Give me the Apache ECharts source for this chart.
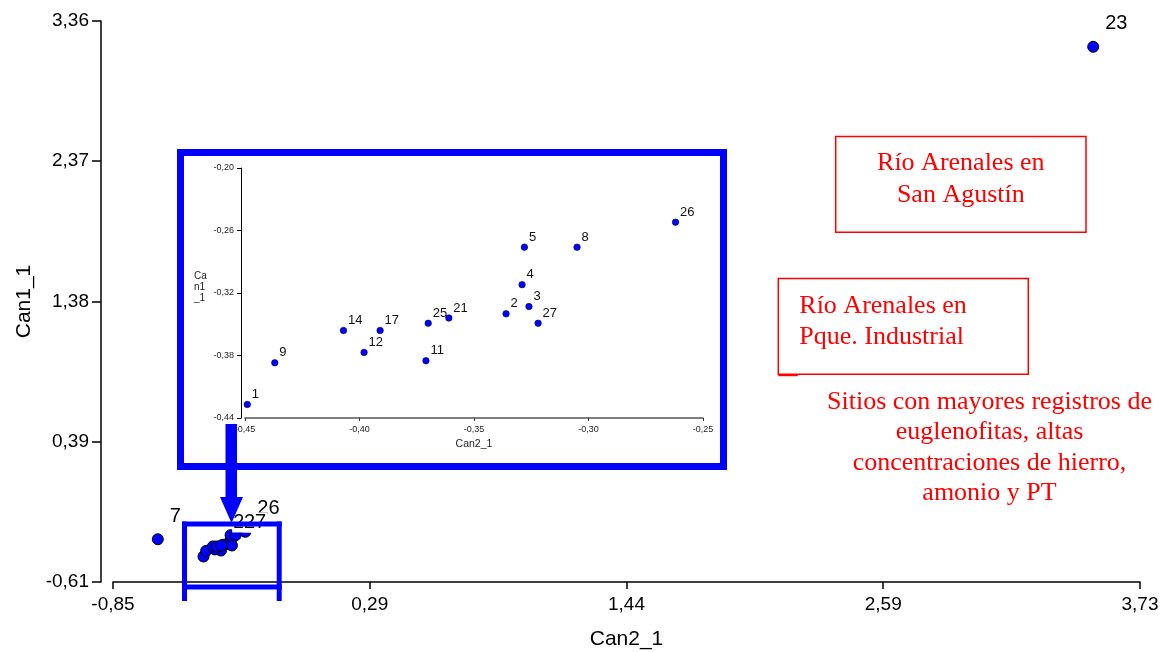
<!DOCTYPE html>
<html>
<head>
<meta charset="utf-8">
<script src="https://cdn.jsdelivr.net/npm/echarts@6/dist/echarts.min.js"></script>
<style>
  html, body { margin: 0; padding: 0; background: #ffffff; }
  #chart { width: 1169px; height: 652px; }
</style>
</head>
<body>
<div id="chart"></div>
<script>
// Canonical scores per sampling site
const sites = ['1', '2', '3', '4', '5', '7', '8', '9', '11', '12', '14', '17', '21', '23', '25', '26', '27'];
const can2 = [-0.449, -0.336, -0.326, -0.329, -0.328, -0.653, -0.305, -0.437, -0.371, -0.398, -0.407, -0.391, -0.361, 3.524, -0.370, -0.262, -0.322];
const can1 = [-0.427, -0.340, -0.333, -0.312, -0.276, -0.305, -0.276, -0.387, -0.385, -0.377, -0.356, -0.356, -0.344, 3.180, -0.349, -0.252, -0.349];

// Sites whose labels stay readable on the full plot
const mainLabelled = ['7', '23', '25', '26', '27'];

// Full plot axis ticks
const xTickValues = [-0.853, 0.2935, 1.44, 2.5865, 3.733];
const xTickLabels = ['-0,85', '0,29', '1,44', '2,59', '3,73'];
const yTickValues = [-0.6075, 0.385, 1.3775, 2.37, 3.3625];
const yTickLabels = ['-0,61', '0,39', '1,38', '2,37', '3,36'];

// Zoomed plot axis ticks
const insetXTicks = [-0.45, -0.40, -0.35, -0.30, -0.25];
const insetXLabels = ['-0,45', '-0,40', '-0,35', '-0,30', '-0,25'];
const insetYTicks = [-0.44, -0.38, -0.32, -0.26, -0.20];
const insetYLabels = ['-0,44', '-0,38', '-0,32', '-0,26', '-0,20'];

function pickLabel(values, labels) {
  return function (v) {
    let best = 0;
    values.forEach(function (t, i) {
      if (Math.abs(t - v) < Math.abs(values[best] - v)) best = i;
    });
    return labels[best];
  };
}

const SANS = '"Liberation Sans", Arial, sans-serif';
const SERIF = '"Liberation Serif", "Times New Roman", serif';

const mainData = sites.map(function (s, i) {
  const show = mainLabelled.indexOf(s) >= 0;
  return {
    name: s,
    value: [can2[i], can1[i]],
    label: { show: show }
  };
});

const insetData = [];
sites.forEach(function (s, i) {
  if (can2[i] >= insetXTicks[0] && can2[i] <= insetXTicks[insetXTicks.length - 1] &&
      can1[i] >= insetYTicks[0] && can1[i] <= insetYTicks[insetYTicks.length - 1]) {
    insetData.push({ name: s, value: [can2[i], can1[i]] });
  }
});

const chart = echarts.init(document.getElementById('chart'), null, { renderer: 'canvas' });

const option = {
  backgroundColor: '#ffffff',
  animation: false,
  textStyle: { fontFamily: SANS },
  grid: [
    { left: 113, right: 29, top: 21, bottom: 70, containLabel: false, outerBoundsMode: 'none' },
    { left: 245, right: 466, top: 168, bottom: 234, containLabel: false, outerBoundsMode: 'none' }
  ],
  xAxis: [
    {
      gridIndex: 0,
      type: 'value',
      min: xTickValues[0],
      max: xTickValues[xTickValues.length - 1],
      name: 'Can2_1',
      nameLocation: 'middle',
      nameGap: 47,
      nameTextStyle: { fontSize: 21, color: '#000', fontFamily: SANS },
      axisLine: { show: true, onZero: false, lineStyle: { color: '#000', width: 1.5 } },
      axisTick: { show: true, length: 7, customValues: xTickValues, lineStyle: { color: '#000', width: 1.5 } },
      axisLabel: { customValues: xTickValues, formatter: pickLabel(xTickValues, xTickLabels), fontSize: 19, color: '#000', margin: 13, fontFamily: SANS },
      splitLine: { show: false }
    },
    {
      gridIndex: 1,
      type: 'value',
      min: insetXTicks[0],
      max: insetXTicks[insetXTicks.length - 1],
      name: 'Can2_1',
      nameLocation: 'middle',
      nameGap: 21,
      nameTextStyle: { fontSize: 10.5, color: '#222', fontFamily: SANS },
      axisLine: { show: true, onZero: false, lineStyle: { color: '#555', width: 1.5 } },
      axisTick: { show: true, length: 3, customValues: insetXTicks, lineStyle: { color: '#333', width: 1 } },
      axisLabel: { customValues: insetXTicks, formatter: pickLabel(insetXTicks, insetXLabels), fontSize: 9, color: '#222', margin: 7, fontFamily: SANS },
      splitLine: { show: false }
    }
  ],
  yAxis: [
    {
      gridIndex: 0,
      type: 'value',
      min: yTickValues[0],
      max: yTickValues[yTickValues.length - 1],
      offset: 12,
      name: 'Can1_1',
      nameLocation: 'middle',
      nameRotate: 90,
      nameGap: 64,
      nameTextStyle: { fontSize: 21, color: '#000', fontFamily: SANS },
      axisLine: { show: true, onZero: false, lineStyle: { color: '#000', width: 1.5 } },
      axisTick: { show: true, length: 9, customValues: yTickValues, lineStyle: { color: '#000', width: 1.5 } },
      axisLabel: { customValues: yTickValues, formatter: pickLabel(yTickValues, yTickLabels), fontSize: 19, color: '#000', margin: 12, fontFamily: SANS },
      splitLine: { show: false }
    },
    {
      gridIndex: 1,
      type: 'value',
      min: insetYTicks[0],
      max: insetYTicks[insetYTicks.length - 1],
      offset: 4,
      axisLine: { show: true, onZero: false, lineStyle: { color: '#000', width: 1 } },
      axisTick: { show: true, length: 4, customValues: insetYTicks, lineStyle: { color: '#000', width: 1 } },
      axisLabel: { customValues: insetYTicks, formatter: pickLabel(insetYTicks, insetYLabels), fontSize: 9, color: '#222', margin: 7, fontFamily: SANS },
      splitLine: { show: false }
    }
  ],
  series: [
    {
      type: 'scatter',
      xAxisIndex: 0,
      yAxisIndex: 0,
      symbol: 'circle',
      symbolSize: 11,
      itemStyle: { color: '#0000ff', borderColor: '#000', borderWidth: 1, opacity: 1 },
      label: {
        position: 'inside',
        align: 'left',
        verticalAlign: 'middle',
        offset: [11, -23],
        formatter: '{b}',
        fontSize: 20,
        color: '#000',
        fontFamily: SANS,
        backgroundColor: '#ffffff',
        padding: [0, 1]
      },
      data: mainData,
      z: 3
    },
    {
      type: 'scatter',
      xAxisIndex: 1,
      yAxisIndex: 1,
      symbol: 'circle',
      symbolSize: 6.5,
      itemStyle: { color: '#0000ff', borderColor: '#000050', borderWidth: 0.6, opacity: 1 },
      label: {
        show: true,
        position: 'inside',
        align: 'left',
        verticalAlign: 'middle',
        offset: [4.5, -10],
        formatter: '{b}',
        fontSize: 13,
        color: '#111',
        fontFamily: SANS
      },
      data: insetData,
      z: 3
    }
  ],
  graphic: [
    // frame round the zoomed plot
    { type: 'rect', z: 100, shape: { x: 180.5, y: 152.5, width: 543, height: 314 },
      style: { fill: 'none', stroke: '#0000ff', lineWidth: 7 } },
    // name of the zoomed plot's vertical axis
    { type: 'text', z: 100, style: { x: 194, y: 287, text: 'Ca\nn1\n_1', font: '10px ' + SANS,
      fill: '#222', align: 'left', textAlign: 'left', verticalAlign: 'middle', textVerticalAlign: 'middle', lineHeight: 11 } },
    // small frame round the cluster of sites
    { type: 'line', z: 100, shape: { x1: 184.5, y1: 521.5, x2: 184.5, y2: 601 }, style: { stroke: '#0000ff', lineWidth: 5 } },
    { type: 'line', z: 100, shape: { x1: 279.2, y1: 521.5, x2: 279.2, y2: 601 }, style: { stroke: '#0000ff', lineWidth: 5 } },
    { type: 'line', z: 100, shape: { x1: 182, y1: 524, x2: 281.7, y2: 524 }, style: { stroke: '#0000ff', lineWidth: 5 } },
    { type: 'line', z: 100, shape: { x1: 182, y1: 587, x2: 281.7, y2: 587 }, style: { stroke: '#0000ff', lineWidth: 5 } },
    // arrow from the zoomed plot to the cluster
    { type: 'polygon', z: 101, shape: { points: [[225.5, 424], [237, 424], [237, 497], [243, 497], [231.5, 523], [220, 497], [225.5, 497]] },
      style: { fill: '#0000ff', stroke: 'none' } },
    // red annotation boxes and notes
    { type: 'rect', z: 100, shape: { x: 835.7, y: 136.5, width: 250.3, height: 95.8 },
      style: { fill: 'none', stroke: '#ff0000', lineWidth: 1.5 } },
    { type: 'text', z: 100, style: { x: 960.8, y: 179.2, text: 'Río Arenales en\nSan Agustín', font: '26px ' + SERIF,
      fill: '#ff0000', align: 'center', textAlign: 'center', verticalAlign: 'middle', textVerticalAlign: 'middle', lineHeight: 32 } },
    { type: 'rect', z: 100, shape: { x: 778.3, y: 278.5, width: 250, height: 95.8 },
      style: { fill: 'none', stroke: '#ff0000', lineWidth: 1.5 } },
    { type: 'line', z: 100, shape: { x1: 778.3, y1: 375.6, x2: 797.7, y2: 375.6 }, style: { stroke: '#ff0000', lineWidth: 1.2 } },
    { type: 'text', z: 100, style: { x: 799.3, y: 321.2, text: 'Río Arenales en\nPque. Industrial', font: '26px ' + SERIF,
      fill: '#ff0000', align: 'left', textAlign: 'left', verticalAlign: 'middle', textVerticalAlign: 'middle', lineHeight: 31 } },
    { type: 'text', z: 100, style: { x: 989.5, y: 447.5,
      text: 'Sitios con mayores registros de\neuglenofitas, altas\nconcentraciones de hierro,\namonio y PT', font: '26px ' + SERIF,
      fill: '#ff0000', align: 'center', textAlign: 'center', verticalAlign: 'middle', textVerticalAlign: 'middle', lineHeight: 30.5 } }
  ]
};

chart.setOption(option);
</script>
</body>
</html>
